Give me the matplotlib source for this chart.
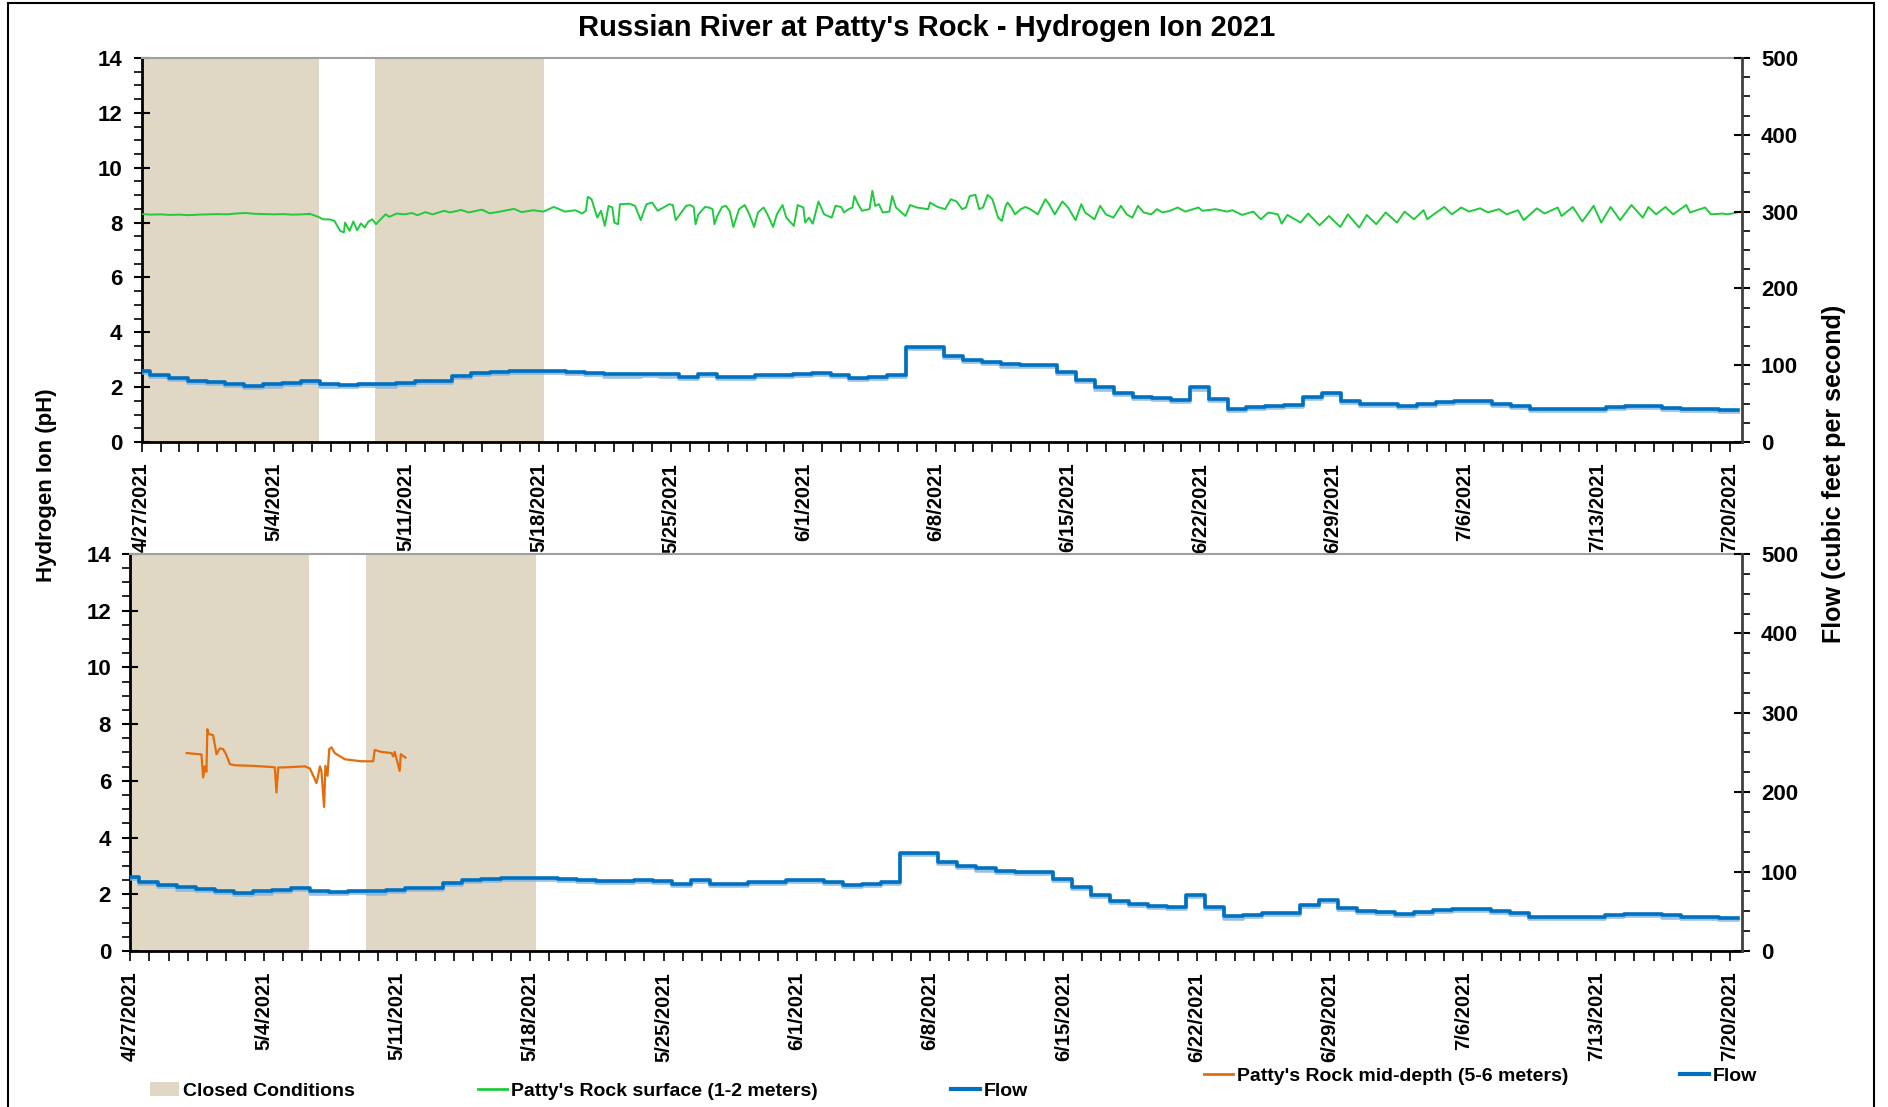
import matplotlib
matplotlib.use("Agg")
import matplotlib.pyplot as plt
import matplotlib.dates as mdates
import matplotlib.patheffects as pe
from matplotlib.lines import Line2D
from matplotlib.patches import Patch, Rectangle
from matplotlib.ticker import MultipleLocator, FuncFormatter
import pandas as pd

# ----- values -----
START = pd.Timestamp("2021-04-27")
END_DAY = 84.63

CLOSED_PERIODS = [("2021-04-26 12:00", "2021-05-06 09:00"),
                  ("2021-05-09 08:40", "2021-05-18 07:00")]

# daily flow (cfs), each value holds for one day starting at FLOW_FIRST_STEP
FLOW_FIRST_STEP = "2021-04-26 10:30"
FLOW_CFS = [93, 87, 83, 80, 78, 76, 73, 75, 77, 79, 75, 74, 76, 75, 77, 79, 79,
            86, 90, 91, 92.5, 92.5, 92.5, 91, 90, 88, 88, 89, 88, 85, 89, 85, 85,
            87, 87, 89, 90, 87.5, 83.5, 85, 87, 123.5, 123.5, 112, 107, 104, 101,
            100, 100, 91, 81, 71, 63.5, 59, 57, 55, 71, 56, 43.5, 45.7, 47.4, 47.9,
            58.3, 63.9, 53.9, 50, 49.6, 47, 49.6, 51.8, 53.1, 53.1, 50, 47.4, 42.6,
            42.6, 42.6, 42.6, 45.2, 46.5, 46.5, 44.8, 42.6, 42.6, 41.3]

# surface pH: days after 4/27/2021 and pH
SURFACE_DAY = [0.0, 0.5, 1.0, 1.5, 2.0, 2.5, 3.0, 3.5, 4.0, 4.5, 5.0, 5.5, 6.0, 6.5,
               7.0, 7.5, 8.0, 8.5, 8.9, 9.34, 9.6, 10.0, 10.2, 10.5, 10.7, 10.76,
               11.0, 11.2, 11.4, 11.6, 11.8, 12.0, 12.2, 12.4, 12.6, 12.9, 13.1,
               13.5, 13.9, 14.3, 14.6, 15.0, 15.4, 16.0, 16.3, 16.9, 17.3, 18.0,
               18.4, 18.8, 19.7, 20.1, 20.7, 21.25, 21.8, 22.4, 22.95, 23.3, 23.5,
               23.6, 23.8, 24.1, 24.3, 24.5, 24.7, 24.9, 25.0, 25.2, 25.3, 25.8,
               26.1, 26.4, 26.7, 27.0, 27.3, 27.9, 28.1, 28.25, 28.8,
               29.0, 29.2, 29.3, 29.45, 29.7, 29.8, 30.0, 30.2, 30.3, 30.45, 30.7,
               30.9, 31.1, 31.3, 31.6, 31.9, 32.1, 32.4, 32.6, 32.9, 33.1, 33.4,
               33.6, 33.9, 34.1, 34.5, 34.7, 35.0, 35.1, 35.3, 35.5, 35.8, 36.1,
               36.5, 36.7, 37.0, 37.15, 37.4, 37.6, 37.7, 37.9, 38.1, 38.5, 38.65,
               38.8, 39.0, 39.2, 39.55, 39.7, 39.9, 40.1, 40.4, 40.65, 41.0, 41.6,
               41.7, 42.1, 42.5, 42.8, 43.1, 43.4, 43.6, 43.8, 44.1, 44.3, 44.5,
               44.75, 45.0, 45.3, 45.5, 45.7, 45.8, 46.0, 46.2, 46.5, 46.75, 47.0,
               47.4, 47.8, 48.0, 48.3, 48.7, 49.0, 49.4, 49.7, 49.9, 50.4, 50.7,
               51.0, 51.4, 51.8, 52.1, 52.4, 52.7, 53.0, 53.4, 53.7, 54.0, 54.4,
               54.8, 55.2, 55.9, 56.1, 56.8, 57.4,
               57.7, 58.2, 58.8, 59.2, 59.6, 60.1, 60.3, 60.6, 61.3, 61.7, 62.3,
               62.8, 63.4, 63.8, 64.4, 64.8, 65.3, 65.8, 66.4, 66.8, 67.3, 67.8,
               68.0, 68.4, 68.9, 69.3, 69.8, 70.2, 70.8, 71.2, 71.8, 72.2, 72.8,
               73.1, 73.8, 74.2, 74.9, 75.1, 75.7, 76.2, 76.8, 77.2, 77.7, 78.2,
               78.8, 79.4, 79.7, 80.1, 80.6, 81.0, 81.7, 81.9, 82.7, 83.0, 83.6,
               83.9, 84.6]
SURFACE_PH = [8.31, 8.29, 8.30, 8.28, 8.29, 8.27, 8.29, 8.30, 8.31, 8.30, 8.33, 8.35,
              8.32, 8.31, 8.30, 8.31, 8.29, 8.30, 8.32, 8.21, 8.12, 8.11, 8.06, 7.70,
              7.64, 8.00, 7.70, 8.04, 7.72, 7.97, 7.82, 8.04, 8.12, 7.94, 8.09, 8.30,
              8.21, 8.33, 8.30, 8.35, 8.27, 8.38, 8.30, 8.43, 8.37, 8.46, 8.37, 8.47,
              8.34, 8.38, 8.50, 8.38, 8.45, 8.40, 8.57, 8.40, 8.45, 8.33, 8.43, 8.94,
              8.85, 8.18, 8.43, 7.88, 8.61, 8.55, 8.00, 7.94, 8.67, 8.69, 8.61, 8.09,
              8.67, 8.73, 8.43, 8.67, 8.64, 8.09, 8.61,
              8.64, 8.57, 7.94, 8.30, 8.49, 8.57, 8.55, 8.49, 7.94, 8.24, 8.57, 8.61,
              8.43, 7.84, 8.49, 8.64, 8.37, 7.84, 8.37, 8.55, 8.30, 7.84, 8.30, 8.64,
              8.18, 7.88, 8.64, 8.55, 8.00, 8.18, 7.96, 8.77, 8.30, 8.18, 8.61, 8.57,
              8.37, 8.49, 8.55, 8.97, 8.67, 8.43, 8.49, 9.16, 8.61, 8.67, 8.37, 8.40,
              8.97, 8.55, 8.43, 8.24, 8.64, 8.55, 8.49, 8.73, 8.57, 8.49, 8.85, 8.77,
              8.49, 8.55, 8.97, 9.01, 8.49, 8.55, 9.01, 8.85, 8.18, 8.06, 8.61, 8.73,
              8.55, 8.30, 8.49, 8.57, 8.49, 8.30, 8.85, 8.67, 8.30, 8.77, 8.55, 8.09,
              8.67, 8.37, 8.12, 8.61, 8.30, 8.18, 8.61, 8.30, 8.18, 8.61, 8.37, 8.30,
              8.49, 8.37, 8.43, 8.55, 8.40, 8.55, 8.43, 8.49, 8.40,
              8.45, 8.28, 8.40, 8.12, 8.37, 8.30, 7.96, 8.28, 8.00, 8.33, 7.90, 8.24,
              7.84, 8.30, 7.82, 8.28, 7.94, 8.37, 8.00, 8.40, 8.12, 8.45, 8.12, 8.33,
              8.57, 8.30, 8.55, 8.40, 8.52, 8.37, 8.49, 8.30, 8.45, 8.09, 8.52, 8.33,
              8.55, 8.24, 8.57, 8.04, 8.61, 8.00, 8.57, 8.09, 8.64, 8.18, 8.57, 8.30,
              8.57, 8.30, 8.64, 8.37, 8.55, 8.30, 8.33, 8.30, 8.40]

# mid-depth pH: days after 4/27/2021 and pH
MID_DAY = [2.95, 3.73, 3.82, 3.9, 3.99, 4.04, 4.11, 4.34, 4.52, 4.69, 4.87, 5.04,
           5.22, 5.48, 6.36, 6.88, 7.58, 7.67, 7.76, 8.28, 9.16, 9.42, 9.6, 9.77,
           9.86, 9.95, 10.03, 10.17, 10.24, 10.35, 10.44, 10.56, 10.73, 11.26, 12.13,
           12.75, 12.83, 13.18, 13.71, 13.8, 13.88, 14.14, 14.2, 14.32, 14.44]
MID_PH = [6.98, 6.93, 6.12, 6.51, 6.32, 7.82, 7.65, 7.61, 6.94, 7.14, 7.12, 6.91,
          6.59, 6.55, 6.53, 6.51, 6.48, 5.59, 6.47, 6.48, 6.51, 6.44, 6.18, 5.92,
          6.18, 6.51, 6.35, 5.08, 6.53, 6.18, 7.12, 7.18, 6.98, 6.76, 6.69, 6.69,
          7.09, 7.02, 6.98, 6.86, 7.02, 6.35, 6.94, 6.88, 6.82]

TICK_DATES = pd.date_range("2021-04-27", "2021-07-20", freq="7D")

TITLE = "Russian River at Patty's Rock - Hydrogen Ion 2021"

TAN = "#E0D8C4"
BLUE = "#0070C0"
GREEN = "#1FCB3C"
ORANGE = "#E46C0A"

plt.rcParams["font.family"] = ["Liberation Sans", "DejaVu Sans"]
plt.rcParams["font.weight"] = "bold"


def to_dates(days):
    return START + pd.to_timedelta(days, unit="D")


def date_label(v, pos):
    d = mdates.num2date(v)
    return f"{d.month}/{d.day}/{d.year}"


def style_axes(ax, ax2):
    ax.set_xlim(START, START + pd.Timedelta(days=END_DAY))
    ax.set_ylim(0, 14)
    ax2.set_ylim(0, 500)
    ax.yaxis.set_major_locator(MultipleLocator(2))
    ax.yaxis.set_minor_locator(MultipleLocator(0.5))
    ax2.yaxis.set_major_locator(MultipleLocator(100))
    ax2.yaxis.set_minor_locator(MultipleLocator(25))
    ax.set_xticks(TICK_DATES)
    ax.xaxis.set_major_formatter(FuncFormatter(date_label))
    ax.xaxis.set_minor_locator(mdates.DayLocator())

    ax.tick_params(axis="x", which="both", direction="out", length=7, width=1.2,
                   labelsize=14.5, labelrotation=90, pad=8)
    ax.tick_params(axis="y", which="major", direction="inout", length=12, width=1.5,
                   labelsize=16, pad=8)
    ax.tick_params(axis="y", which="minor", direction="out", length=6, width=1.2)
    ax2.tick_params(axis="y", which="major", direction="inout", length=12, width=1.5,
                    labelsize=16, pad=8)
    ax2.tick_params(axis="y", which="minor", direction="out", length=6, width=1.2)

    for s in ("left", "bottom"):
        ax.spines[s].set_linewidth(2)
        ax.spines[s].set_color("black")
    ax.spines["top"].set_color("#A0A0A0")
    ax.spines["top"].set_linewidth(1.5)
    ax.spines["right"].set_visible(False)
    for s in ("left", "bottom", "top"):
        ax2.spines[s].set_visible(False)
    ax2.spines["right"].set_color("#404040")
    ax2.spines["right"].set_linewidth(2)

    for a, b in CLOSED_PERIODS:
        ax.axvspan(pd.Timestamp(a), pd.Timestamp(b), color=TAN, lw=0, zorder=0)


def draw_flow(ax2):
    times = pd.date_range(FLOW_FIRST_STEP, periods=len(FLOW_CFS) + 1, freq="D")
    ax2.step(times, FLOW_CFS + [FLOW_CFS[-1]], where="post", color=BLUE, lw=2.6,
             path_effects=[pe.SimpleLineShadow(offset=(0, -1.5), shadow_color="#7FB2E0",
                                               alpha=0.8), pe.Normal()])


fig = plt.figure(figsize=(18.88, 11.07), dpi=100)

ax_top = fig.add_axes([0.0750, 0.6007, 0.8475, 0.3469])
ax_top2 = ax_top.twinx()
style_axes(ax_top, ax_top2)
ax_top.plot(to_dates(SURFACE_DAY), SURFACE_PH, color=GREEN, lw=1.4, zorder=3)
draw_flow(ax_top2)

ax_bot = fig.add_axes([0.0691, 0.1409, 0.8534, 0.3587])
ax_bot2 = ax_bot.twinx()
style_axes(ax_bot, ax_bot2)
ax_bot.plot(to_dates(MID_DAY), MID_PH, color=ORANGE, lw=1.6, zorder=3)
draw_flow(ax_bot2)

fig.text(0.491, 0.975, TITLE, ha="center", va="center", fontsize=21, weight="bold")
fig.text(0.0244, 0.562, "Hydrogen Ion (pH)", ha="center", va="center", rotation=90,
         fontsize=16, weight="bold")
fig.text(0.9714, 0.572, "Flow (cubic feet per second)", ha="center", va="center",
         rotation=90, fontsize=18, weight="bold")

# legend entries along the bottom
entries = [
    (Patch(facecolor=TAN, edgecolor="none"), "Closed Conditions", 0.0794, 0.0145),
    (Line2D([], [], color=GREEN, lw=2), "Patty's Rock surface (1-2 meters)", 0.2532, 0.0145),
    (Line2D([], [], color=BLUE, lw=3), "Flow", 0.5037, 0.0145),
    (Line2D([], [], color=ORANGE, lw=2), "Patty's Rock mid-depth (5-6 meters)", 0.6377, 0.028),
    (Line2D([], [], color=BLUE, lw=3), "Flow", 0.8898, 0.028),
]
for handle, label, x, y in entries:
    fig.legend([handle], [label], loc="center left", bbox_to_anchor=(x, y),
               frameon=False, fontsize=14, handlelength=1.5, handletextpad=0.2,
               borderpad=0, borderaxespad=0)

fig.patches.append(Rectangle((8 / 1888, -0.02), 1866 / 1888, 1.0173,
                             transform=fig.transFigure, fill=False, lw=1.5,
                             edgecolor="black"))

fig.savefig("out.png", dpi=100)
